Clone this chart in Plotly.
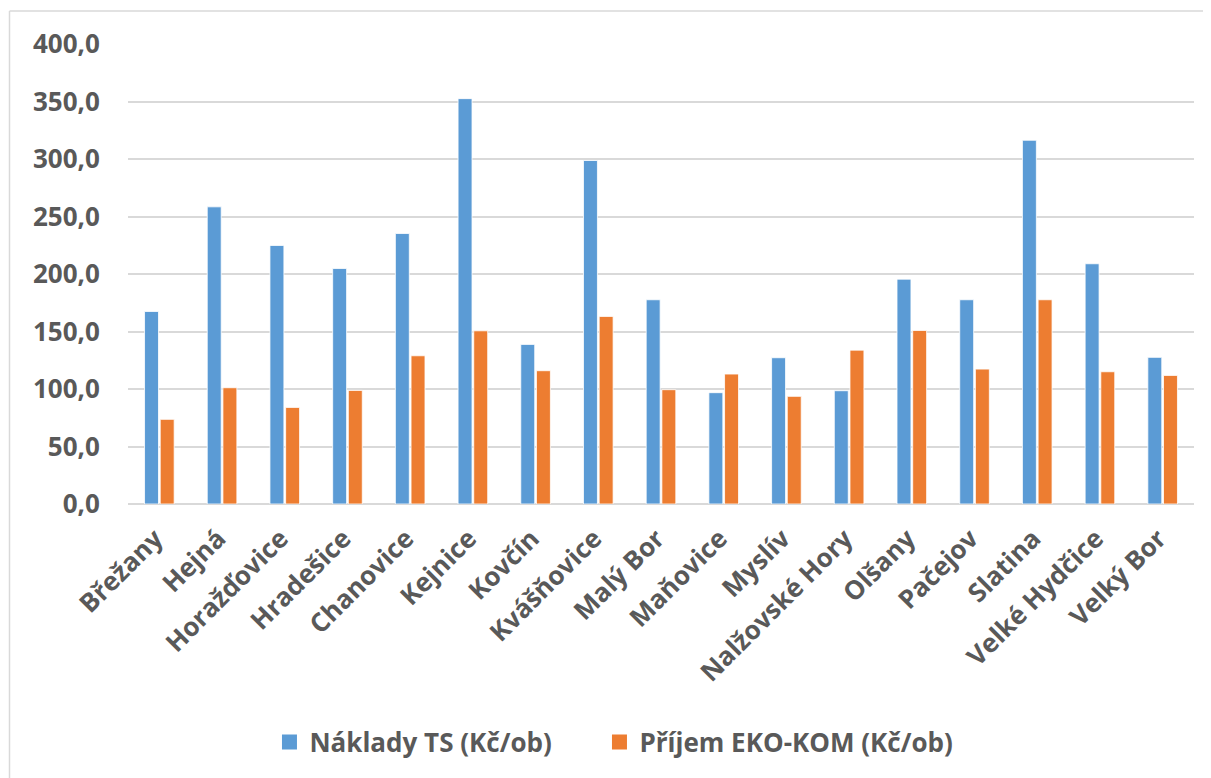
import plotly.graph_objects as go

categories = ["Břežany", "Hejná", "Horažďovice", "Hradešice", "Chanovice", "Kejnice",
              "Kovčín", "Kvášňovice", "Malý Bor", "Maňovice", "Myslív", "Nalžovské Hory",
              "Olšany", "Pačejov", "Slatina", "Velké Hydčice", "Velký Bor"]
naklady_ts = [167.4, 258.4, 224.8, 204.8, 235.2, 352.5, 138.8, 298.7, 177.6, 96.8,
              127.2, 98.5, 195.5, 177.6, 316.3, 208.9, 127.5]
prijem_ekokom = [73.6, 101.1, 84.0, 98.8, 128.9, 150.6, 115.9, 163.1, 99.4, 113.0,
                 93.6, 133.8, 150.9, 117.3, 177.6, 115.0, 111.8]
series_names = ["Náklady TS (Kč/ob)", "Příjem EKO-KOM (Kč/ob)"]
series_colors = ["#5B9BD5", "#ED7D31"]
y_ticks = [0, 50, 100, 150, 200, 250, 300, 350, 400]

OFF = 8  # page offset of the figure
W, H = 1211, 778
L, R, T, B = 128 - OFF, W + OFF - 1194, 44 - OFF, H + OFF - 504
FONT = "Open Sans"
TXT = "#595959"
FS = 26

fig = go.Figure()
for vals, name, col in zip([naklady_ts, prijem_ekokom], series_names, series_colors):
    fig.add_trace(go.Bar(x=categories, y=vals, name=name, legendgroup=name, showlegend=False,
                         marker=dict(color=col, line=dict(color="white", width=0.8))))
legend_ids = ["legend", "legend2"]
for name, col, lg in zip(series_names, series_colors, legend_ids):
    fig.add_trace(go.Scatter(x=[None], y=[None], mode="markers", name=name, legendgroup=name,
                             legend=lg, marker=dict(symbol="square", size=15, color=col)))

pw = W - L - R
ph = H - T - B
def px(x):
    return (x - OFF - L) / pw
def py(y):
    return (H - B - (y - OFF)) / ph

leg_common = dict(orientation="h", xanchor="left", y=py(742), yanchor="middle",
                  font=dict(family=FONT, size=FS, color=TXT, weight="bold"),
                  bgcolor="rgba(0,0,0,0)")

fig.update_layout(
    width=W, height=H,
    margin=dict(l=L, r=R, t=T, b=B, autoexpand=False),
    paper_bgcolor="white", plot_bgcolor="white",
    barmode="group", bargap=0.5, bargroupgap=0.11,
    separators=", ",
    font=dict(family=FONT, size=FS, color=TXT, weight="bold"),
    showlegend=True,
    legend=dict(x=px(278) - 0.008, **leg_common),
    legend2=dict(x=px(608) - 0.008, **leg_common),
    xaxis=dict(tickangle=-45, showgrid=False, showline=False, ticks="outside", ticklen=8,
               tickcolor="rgba(0,0,0,0)", ticklabelshift=-4,
               automargin=False, tickfont=dict(family=FONT, size=FS, color=TXT, weight="bold")),
    yaxis=dict(range=[0, 400], tickvals=y_ticks, tickformat=".1f",
               gridcolor="#D9D9D9", gridwidth=1.5, zeroline=True, zerolinecolor="#D9D9D9",
               zerolinewidth=1.5, showline=False, ticks="outside", ticklen=22,
               tickcolor="rgba(0,0,0,0)", automargin=False,
               tickfont=dict(family=FONT, size=FS, color=TXT, weight="bold")),
    shapes=[
        dict(type="line", xref="paper", yref="paper", x0=px(9.5), x1=px(W), y0=py(11), y1=py(11),
             line=dict(color="#D9D9D9", width=1.5)),
        dict(type="line", xref="paper", yref="paper", x0=px(9.5), x1=px(9.5), y0=py(11), y1=py(H),
             line=dict(color="#D9D9D9", width=1.5)),
    ],
)

fig.write_html("out.html")
